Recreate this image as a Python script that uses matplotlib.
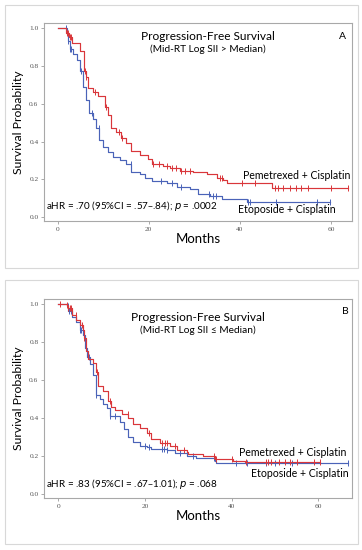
import matplotlib
matplotlib.use("Agg")
import matplotlib.pyplot as plt
from matplotlib.patches import Rectangle
import numpy as np

# Panel A (Mid-RT Log SII > Median)
a_pem_t = [0, 1.9, 2.4, 3.1, 4.9, 5.8, 6.2, 6.7, 7.8, 8.9, 10.4, 11.1, 11.8, 12.9, 14.0, 15.1, 16.2,
           18.1, 19.9, 20.6, 23.2, 24.6, 26.8, 29.8, 32.7, 34.9, 36.2, 37.1, 47.0, 63.8]
a_pem_s = [1.0, 0.975, 0.95, 0.92, 0.88, 0.77, 0.74, 0.68, 0.66, 0.64, 0.58, 0.54, 0.47, 0.45, 0.42, 0.39, 0.35,
           0.33, 0.31, 0.28, 0.27, 0.26, 0.245, 0.24, 0.23, 0.21, 0.195, 0.18, 0.155, 0.155]
a_pem_c = [2.0, 2.3, 2.6, 2.9, 6.0, 6.3, 8.2, 10.6, 13.5, 14.1, 21.0, 22.2, 24.0, 25.0, 26.0, 27.0, 28.0, 29.0,
           35.6, 36.0, 40.5, 43.3, 47.6, 48.3, 49.5, 51.0, 52.3, 53.5, 55.0, 60.0, 63.8]
a_eto_t = [0, 2.0, 2.2, 2.6, 3.4, 4.3, 4.9, 5.5, 6.2, 6.9, 7.7, 8.4, 9.1, 10.0, 11.1, 12.1, 13.7, 15.0,
           16.2, 18.1, 19.2, 20.6, 23.9, 26.1, 29.0, 30.9, 33.4, 36.0, 41.5, 59.8]
a_eto_s = [1.0, 0.97, 0.93, 0.89, 0.86, 0.83, 0.77, 0.69, 0.62, 0.55, 0.52, 0.47, 0.41, 0.37, 0.345, 0.32, 0.305, 0.28,
           0.24, 0.23, 0.205, 0.19, 0.18, 0.16, 0.15, 0.125, 0.11, 0.095, 0.083, 0.083]
a_eto_c = [1.9, 2.3, 2.7, 3.0, 5.2, 7.6, 9.0, 16.0, 22.6, 25.2, 27.0, 33.2, 34.0, 34.8, 41.8, 42.3, 48.0, 57.0, 59.8]

# Panel B (Mid-RT Log SII <= Median)
b_pem_t = [0, 1.9, 2.3, 3.1, 4.2, 5.0, 5.6, 5.9, 6.4, 6.9, 8.1, 8.7, 9.2, 10.4, 11.5, 12.1, 13.1, 14.8,
           16.2, 17.3, 18.8, 20.4, 21.5, 23.5, 25.8, 27.3, 29.6, 30.0, 33.5, 36.2, 40.4, 43.1, 60.4]
b_pem_s = [1.0, 0.995, 0.977, 0.94, 0.915, 0.89, 0.86, 0.82, 0.75, 0.71, 0.69, 0.64, 0.57, 0.54, 0.49, 0.46, 0.44, 0.42,
           0.40, 0.37, 0.35, 0.32, 0.29, 0.27, 0.255, 0.234, 0.224, 0.21, 0.20, 0.185, 0.176, 0.167, 0.167]
b_pem_c = [0.4, 2.0, 2.3, 2.6, 3.0, 4.0, 5.5, 6.0, 9.0, 12.0, 16.0, 21.0, 24.0, 24.6, 25.2, 27.0, 29.0,
           36.0, 36.4, 40.0, 43.4, 48.0, 48.5, 49.0, 51.0, 52.3, 53.5, 55.0, 59.0, 60.4]
b_eto_t = [0, 1.9, 2.3, 3.1, 4.2, 5.0, 5.6, 6.2, 6.7, 7.3, 7.9, 8.7, 9.6, 10.4, 11.3, 11.9, 14.2, 15.2,
           16.2, 17.3, 18.8, 20.4, 21.5, 25.0, 26.9, 29.6, 31.9, 36.2, 36.5, 66.9]
b_eto_s = [1.0, 0.99, 0.96, 0.93, 0.905, 0.86, 0.835, 0.765, 0.72, 0.685, 0.625, 0.52, 0.50, 0.475, 0.45, 0.41, 0.38, 0.343,
           0.30, 0.276, 0.255, 0.246, 0.238, 0.234, 0.217, 0.20, 0.188, 0.176, 0.164, 0.164]
b_eto_c = [2.2, 2.5, 3.0, 5.0, 5.3, 6.5, 7.0, 8.8, 12.0, 13.0, 20.0, 21.0, 24.0, 24.5, 25.0, 28.0, 31.0,
           36.0, 41.0, 43.5, 48.0, 50.0, 54.0, 66.9]

RED = "#d9363a"
BLUE = "#4a63b8"
FONT = ["Lato", "DejaVu Sans"]
SERIF = ["Liberation Serif", "DejaVu Serif"]


def km(ax, t, s, cens, color):
    t = np.asarray(t)
    s = np.asarray(s)
    ax.step(t, s, where="post", color=color, lw=0.85)
    idx = np.searchsorted(t, cens, side="right") - 1
    ax.plot(cens, s[idx], ls="none", marker="|", ms=4, mew=0.7, color=color)


fig = plt.figure(figsize=(3.62, 5.5), dpi=100)

panels = [
    dict(pos=[0.1215, 0.598, 0.851, 0.36], box=(5, 5, 358, 268), xlim=(-3.0, 64.6),
         pem=(a_pem_t, a_pem_s, a_pem_c), eto=(a_eto_t, a_eto_s, a_eto_c),
         sub="(Mid-RT Log SII > Median)", letter="A",
         title_xy=(32.9, 0.955), sub_y=0.885, letter_xy=(62.6, 0.955),
         pem_xy=(52.5, 0.222), eto_xy=(50.3, 0.04),
         hr="aHR = .70 (95%CI = .57\u2013.84); $\\mathit{p}$ = .0002", hr_xy=(-2.6, 0.022)),
    dict(pos=[0.1215, 0.0945, 0.851, 0.362], box=(5, 280, 358, 544), xlim=(-3.3, 67.8),
         pem=(b_pem_t, b_pem_s, b_pem_c), eto=(b_eto_t, b_eto_s, b_eto_c),
         sub="(Mid-RT Log SII \u2264 Median)", letter="B",
         title_xy=(32.2, 0.93), sub_y=0.862, letter_xy=(66.2, 0.96),
         pem_xy=(54.1, 0.217), eto_xy=(55.8, 0.11),
         hr="aHR = .83 (95%CI = .67\u20131.01); $\\mathit{p}$ = .068", hr_xy=(-2.8, 0.017)),
]

for p in panels:
    x0, y0, x1, y1 = p["box"]
    fig.patches.append(Rectangle((x0 / 362, 1 - y1 / 550), (x1 - x0) / 362, (y1 - y0) / 550,
                                 transform=fig.transFigure, fill=False, ec="#d8d8d8", lw=0.8))
    ax = fig.add_axes(p["pos"])
    km(ax, *p["eto"], BLUE)
    km(ax, *p["pem"], RED)
    ax.set_xlim(*p["xlim"])
    ax.set_ylim(-0.02, 1.025)
    ax.set_xticks([0, 20, 40, 60])
    ax.set_yticks([0.0, 0.2, 0.4, 0.6, 0.8, 1.0])
    ax.set_yticklabels(["0.0", "0.2", "0.4", "0.6", "0.8", "1.0"])
    for lab in ax.get_xticklabels() + ax.get_yticklabels():
        lab.set_family(SERIF)
        lab.set_fontsize(5.3)
        lab.set_color("#555555")
    ax.tick_params(length=2, width=0.5, color="#888888", pad=2)
    for sp in ax.spines.values():
        sp.set_color("#a8a8a8")
        sp.set_linewidth(0.8)
    ax.set_xlabel("Months", family=FONT, fontsize=9.5, labelpad=1)
    ax.set_ylabel("Survival Probability", family=FONT, fontsize=8.8, labelpad=4)

    ax.text(*p["title_xy"], "Progression-Free Survival", family=FONT, fontsize=8.6,
            ha="center", va="center")
    ax.text(p["title_xy"][0], p["sub_y"], p["sub"], family=FONT, fontsize=7.3,
            ha="center", va="center")
    ax.text(*p["letter_xy"], p["letter"], family=FONT, fontsize=7.5, ha="center", va="center")
    ax.text(*p["pem_xy"], "Pemetrexed + Cisplatin", family=FONT, fontsize=7.6,
            ha="center", va="center")
    ax.text(*p["eto_xy"], "Etoposide + Cisplatin", family=FONT, fontsize=7.6,
            ha="center", va="center")
    ax.text(*p["hr_xy"], p["hr"], family=FONT, fontsize=7.1, ha="left", va="bottom")

fig.savefig("out.png", dpi=100)
